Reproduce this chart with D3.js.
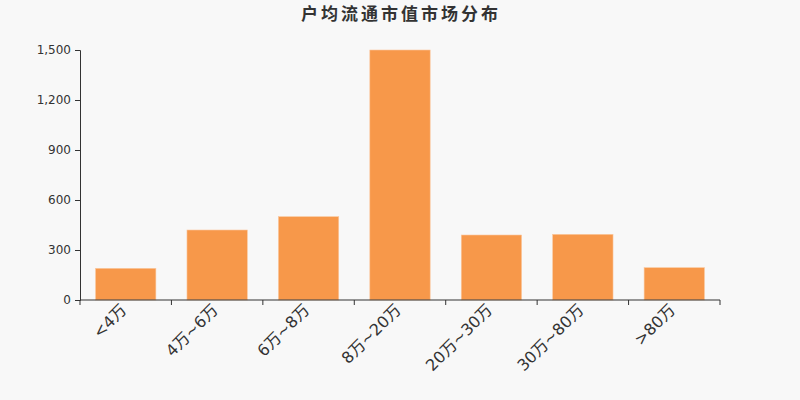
<!DOCTYPE html>
<html>
<head>
<meta charset="utf-8">
<script src="https://cdn.jsdelivr.net/npm/d3@7"></script>
<style>
  body { margin: 0; background: #f8f8f8; }
  svg { display: block; font-family: "DejaVu Sans", "Noto Sans CJK SC", sans-serif; }
</style>
</head>
<body>
<svg id="chart"></svg>
<script>
"use strict";

// 户均流通市值市场分布
let categories = ['<4万', '4万~6万', '6万~8万', '8万~20万', '20万~30万', '30万~80万', '>80万'];
let holders = [190, 420, 500, 1500, 390, 394, 194];
let yTicks = [0, 300, 600, 900, 1200, 1500];

let width = 800, height = 400;
let margin = { top: 50, right: 80, bottom: 100, left: 80 };
let font = '"DejaVu Sans", "Noto Sans CJK SC", sans-serif';

let svg = d3.select('#chart')
  .attr('width', width)
  .attr('height', height);

svg.append('rect')
  .attr('width', width)
  .attr('height', height)
  .attr('fill', '#f8f8f8');

let x = d3.scaleBand()
  .domain(categories)
  .range([margin.left, width - margin.right])
  .paddingInner(0.34)
  .paddingOuter(0.17);

let y = d3.scaleLinear()
  .domain([0, 1500])
  .range([height - margin.bottom, margin.top]);

svg.append('text')
  .attr('x', width / 2 + 1)
  .attr('y', 20)
  .attr('text-anchor', 'middle')
  .attr('font-size', 17)
  .attr('font-weight', 'bold')
  .attr('letter-spacing', 3)
  .attr('fill', '#333')
  .attr('font-family', '"Noto Sans CJK SC", sans-serif')
  .text('户均流通市值市场分布');

svg.selectAll('rect.bar')
  .data(holders)
  .enter()
  .append('rect')
  .attr('class', 'bar')
  .attr('x', (d, i) => x(categories[i]))
  .attr('y', (d) => y(d))
  .attr('width', x.bandwidth())
  .attr('height', (d) => y(0) - y(d))
  .attr('fill', '#f7984a')
  .attr('stroke', '#fbc8a0')
  .attr('stroke-width', 0.6);

// y axis
let yAxis = svg.append('g')
  .attr('transform', `translate(${margin.left},0)`)
  .call(d3.axisLeft(y).tickValues(yTicks).tickSize(5).tickPadding(4).tickFormat(d3.format(',')))
  .attr('font-family', font);
yAxis.selectAll('text').attr('font-size', 12).attr('fill', '#333');
yAxis.selectAll('line, path').attr('stroke', '#333');

// x axis, ticks on band edges
let edges = categories.map((c) => x(c) - x.step() * x.paddingInner() / 2);
edges.push(width - margin.right);

let xAxis = svg.append('g')
  .attr('transform', `translate(0,${y(0)})`)
  .attr('font-family', font);
xAxis.append('line')
  .attr('x1', margin.left)
  .attr('x2', width - margin.right)
  .attr('stroke', '#333');
xAxis.selectAll('line.tick')
  .data(edges)
  .enter()
  .append('line')
  .attr('class', 'tick')
  .attr('x1', (d) => d)
  .attr('x2', (d) => d)
  .attr('y2', 5)
  .attr('stroke', '#333');

xAxis.selectAll('text')
  .data(categories)
  .enter()
  .append('text')
  .attr('transform', (d) => `translate(${x(d) + x.bandwidth() / 2 - 2},7) rotate(-45)`)
  .attr('text-anchor', 'end')
  .attr('dy', '0.35em')
  .attr('font-size', 16)
  .attr('fill', '#333')
  .text((d) => d);
</script>
</body>
</html>
